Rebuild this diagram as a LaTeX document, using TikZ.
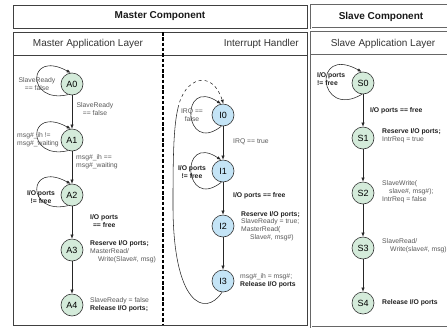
\documentclass[tikz,border=0pt]{standalone}
\usepackage{fontspec}
\setmainfont{Liberation Sans}
\usetikzlibrary{arrows.meta}
\definecolor{ngreen}{RGB}{212,235,218}
\definecolor{nblue}{RGB}{196,228,246}
\definecolor{lblgray}{RGB}{88,88,88}
\newcommand{\bln}[1]{{\bfseries\color{black!88}#1}}
\begin{document}
\begin{tikzpicture}[x=1pt,y=-1pt,
  st/.style={circle, draw=black!80, line width=0.6pt, minimum size=22pt, inner sep=0pt, font=\fontsize{9}{10}\selectfont},
  gst/.style={st, fill=ngreen},
  bst/.style={st, fill=nblue},
  conn/.style={draw=black!85, line width=0.55pt},
  arr/.style={conn, -{Latex[length=4pt,width=3.2pt]}},
  lbl/.style={inner sep=0pt, font=\fontsize{6.8}{7.8}\selectfont, text=lblgray},
  blbl/.style={lbl, font=\fontsize{6.8}{7.8}\selectfont\bfseries, text=black!88},
  hdr/.style={inner sep=0pt, font=\fontsize{10}{12}\selectfont\bfseries, text=black!90},
  sub/.style={inner sep=0pt, font=\fontsize{10}{12}\selectfont, text=black!80},
  mframe/.style={draw=black!75, line width=0.7pt},
  sframe/.style={draw=black!60, line width=0.5pt, double=white, double distance=0.8pt}
]
\useasboundingbox (0,0) rectangle (447,330);
\clip (0,0) rectangle (447,330);

% frames
\draw[mframe] (13,5) rectangle (307,28);
\draw[mframe] (13,32) rectangle (307,325);
\draw[mframe] (13,55) -- (307,55);
\draw[black, line width=1.1pt, dash pattern=on 3.5pt off 1.8pt] (163,32) -- (163,325);
\draw[sframe] (311,5) rectangle (455,28);
\draw[sframe] (311,32) rectangle (455,327);
\draw[sframe] (311,55) -- (455,55);

% headers
\node[hdr] (mc) at (160,16.5) {Master Component};
\node[sub] (mal) at (88,43.5) {Master Application Layer};
\node[sub, anchor=east] (ih) at (299,43.5) {Interrupt Handler};
\node[hdr] (sc) at (381,16.5) {Slave Component};
\node[sub] (sal) at (383,43.5) {Slave Application Layer};

% master application layer
\node[gst] (A0) at (72,84) {A0};
\node[gst] (A1) at (72,140) {A1};
\node[gst] (A2) at (72,195) {A2};
\node[gst] (A3) at (72,250) {A3};
\node[gst] (A4) at (72,305) {A4};
\draw[arr] (A0) -- (A1);
\draw[arr] (A1) -- (A2);
\draw[arr] (A2) -- (A3);
\draw[arr] (A3) -- (A4);
\draw[arr] (A0.250) .. controls +(-42,10) and +(-44,-24) .. (A0.97);
\draw[arr] (A1.250) .. controls +(-42,10) and +(-44,-24) .. (A1.97);
\draw[arr] (A2.250) .. controls +(-42,10) and +(-44,-24) .. (A2.97);
\node[lbl, align=center] (la0) at (37,84) {SlaveReady\\== false};
\node[lbl, align=left, anchor=west] (la1) at (17,140) {msg\#\_ih !=\\msg\#\_waiting};
\node[blbl, align=center] (la2) at (41,197) {I/O ports\\!= free};
\node[lbl, align=center] (la01) at (95,109) {SlaveReady\\== false};
\node[lbl, align=left, anchor=west] (la12) at (76,162) {msg\#\_ih ==\\msg\#\_waiting};
\node[blbl, align=center, anchor=west] (la23) at (90,221) {I/O ports\\== free};
\node[lbl, align=left, anchor=west] (la3) at (90,252) {\bln{Reserve I/O ports;}\\MasterRead/\\\hspace*{8pt}Write(Slave\#, msg)};
\node[lbl, align=left, anchor=west] (la4) at (90,305) {SlaveReady = false\\\bln{Release I/O ports;}};

% interrupt handler
\node[bst] (I0) at (223,115) {I0};
\node[bst] (I1) at (223,171) {I1};
\node[bst] (I2) at (223,226) {I2};
\node[bst] (I3) at (223,281) {I3};
\draw[arr] (I0) -- (I1);
\draw[arr] (I1) -- (I2);
\draw[arr] (I2) -- (I3);
\draw[arr] (I0.262) .. controls +(-38,30) and +(-42,-28) .. (I0.100);
\draw[arr] (I1.262) .. controls +(-38,30) and +(-42,-28) .. (I1.100);
\draw[conn] (I3.265) .. controls (205,318) and (172,305) .. (173,200)
  .. controls (173,150) and (174,125) .. (178,108) coordinate (bigup);
\draw[arr, dashed] (bigup) .. controls (184,78) and (212,68) .. (I0.88);
\node[lbl, align=center] (li0) at (192,115) {IRQ ==\\false};
\node[lbl, anchor=west] (li01) at (233,142) {IRQ == true};
\node[blbl, align=center] (li1) at (192,172) {I/O ports\\!= free};
\node[blbl, anchor=west] (li12) at (233,196) {I/O ports == free};
\node[lbl, align=left, anchor=west] (li2) at (241,226) {\bln{Reserve I/O ports;}\\SlaveReady = true;\\MasterRead(\\\hspace*{9pt}Slave\#, msg\#)};
\node[lbl, align=left, anchor=west] (li3) at (240,281) {msg\#\_ih = msg\#;\\\bln{Release I/O ports}};

% slave application layer
\node[gst] (S0) at (363,83) {S0};
\node[gst] (S1) at (363,138) {S1};
\node[gst] (S2) at (363,193) {S2};
\node[gst] (S3) at (363,248) {S3};
\node[gst] (S4) at (363,303) {S4};
\draw[arr] (S0) -- (S1);
\draw[arr] (S1) -- (S2);
\draw[arr] (S2) -- (S3);
\draw[arr] (S3) -- (S4);
\draw[arr] (S0.265) .. controls +(-44,26) and +(-50,-28) .. (S0.97);
\node[blbl, align=left, anchor=west] (ls0) at (317,79) {I/O ports\\!= free};
\node[blbl, anchor=west] (ls01) at (370,111) {I/O ports == free};
\node[lbl, align=left, anchor=west] (ls1) at (382,136) {\bln{Reserve I/O ports;}\\IntrReq = true};
\node[lbl, align=left, anchor=west] (ls2) at (382,192) {SlaveWrite(\\\hspace*{7pt}slave\#, msg\#);\\IntrReq = false};
\node[lbl, align=left, anchor=west] (ls3) at (382,246) {SlaveRead/\\\hspace*{8pt}Write(slave\#, msg)};
\node[blbl, anchor=west] (ls4) at (382,303) {Release I/O ports};
\end{tikzpicture}
\end{document}
